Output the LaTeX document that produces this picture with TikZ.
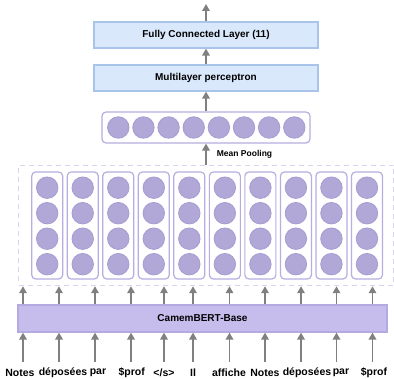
\documentclass[tikz,border=0pt]{standalone}
\usepackage{fontspec}
\setmainfont{Liberation Sans}
\usetikzlibrary{positioning}
\usetikzlibrary{arrows.meta}
\usetikzlibrary{calc}

\definecolor{bluefill}{HTML}{DAE8FC}
\definecolor{bluedraw}{HTML}{A9C4EB}
\definecolor{unitfill}{HTML}{B1A8D8}
\definecolor{unitdraw}{HTML}{A79CD1}
\definecolor{boxdraw}{HTML}{B6AEE0}
\definecolor{dashdraw}{HTML}{D9D5F0}
\definecolor{bertfill}{HTML}{C6BDEC}
\definecolor{bertdraw}{HTML}{B4AAE2}
\definecolor{arrowgray}{HTML}{808080}

\begin{document}
\begin{tikzpicture}[x=1pt,y=-1pt,
		layer/.style={draw=bluedraw,fill=bluefill,line width=1.2pt,minimum width=224pt,minimum height=26pt,inner sep=0pt,font=\bfseries\fontsize{10}{12}\selectfont},
		unit/.style={circle,draw=unitdraw,fill=unitfill,line width=0.8pt,minimum size=21.5pt,inner sep=0pt},
		tokenbox/.style={draw=boxdraw,fill=white,rounded corners=4pt,line width=1.2pt,minimum width=31pt,minimum height=107pt,inner sep=0pt},
		up/.style={draw=arrowgray,line width=1.8pt,-{Triangle[width=7.5pt,length=7pt]}},
		word/.style={font=\bfseries\fontsize{10.5}{12}\selectfont,inner sep=0pt}]
		\useasboundingbox (0,0) rectangle (394,379);

		% layers on top
		\node[layer] at (206,35) (fc) {Fully Connected Layer (11)};
		\node[layer] at (206,78) (mlp) {Multilayer perceptron};

		% pooled vector
		\node[tokenbox,minimum width=208pt,minimum height=31pt] at (206,127.5) (mean) {};
		\foreach \k in {0,...,7}
			\node[unit] at ({118.3+25.14*\k},127.5) (m\k) {};

		% token vectors
		\node[draw=dashdraw,dash pattern=on 5pt off 4pt,line width=1.5pt,minimum width=375pt,minimum height=120pt,inner sep=0pt] at (206,225.5) (pool) {};
		\foreach \i in {0,...,9} {
			\node[tokenbox] at ({47.2+35.53*\i},225.5) (col\i) {};
			\foreach \j in {0,...,3}
				\node[unit] at ({47.2+35.53*\i},{187.7+25.5*\j}) (h\i-\j) {};
		}

		\node[draw=bertdraw,fill=bertfill,line width=1.2pt,minimum width=369pt,minimum height=27pt,inner sep=0pt,font=\bfseries\fontsize{10}{12}\selectfont] at (202.5,318.5) (cam) {CamemBERT-Base};

		% input words
		\foreach \x/\w [count=\n] in {20/Notes,63/déposées,98/par,131.7/\$prof,164/{</s>},193/Il,229/affiche,265/Notes,307/déposées,341/par,374/\$prof}
			\node[word] at (\x,373) (w\n) {\w};

		% arrows
		\coordinate (out) at (206,4);
		\draw[up] (fc) to (out);
		\draw[up] (mlp) to (fc);
		\draw[up] (mean) to (mlp);
		\draw[up] (pool) to node[right=10pt,inner sep=0pt,font=\bfseries\fontsize{8.5}{10}\selectfont] (mplabel) {Mean Pooling} (mean);
		\foreach \x [count=\n] in {23,59,95,131,164,193,229.5,265,301,336.5,372.5} {
			\coordinate (t\n) at (\x,362);
			\draw[up] (t\n) to (t\n |- cam.south);
			\draw[up] (t\n |- cam.north) to (t\n |- pool.south);
		}
	\end{tikzpicture}
\end{document}
